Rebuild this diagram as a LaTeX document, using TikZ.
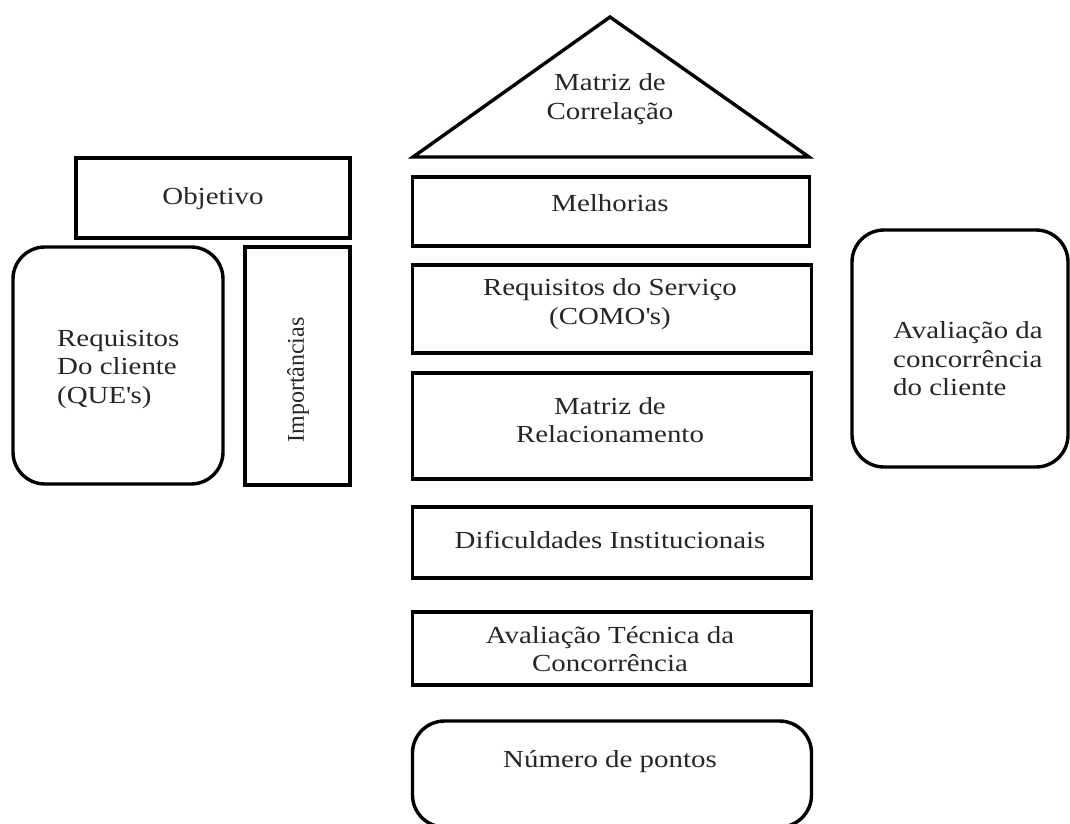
\documentclass[tikz,border=0pt]{standalone}
\usepackage{fontspec}
\setmainfont{Liberation Serif}[FakeStretch=1.18]
\newfontfamily\uprightserif{Liberation Serif}
\begin{document}
\begin{tikzpicture}[x=1pt,y=-1pt,
  box/.style={draw=black, line width=3.4pt, rectangle, inner sep=0pt},
  rbox/.style={box, rounded corners=32pt},
  txt/.style={font=\fontsize{24.5}{28.5}\selectfont, align=center, inner sep=0pt, text=black!85},
  ltxt/.style={txt, align=left, anchor=west}
]
\useasboundingbox[fill=white] (0,0) rectangle (1070,823);

% roof: correlation matrix
\coordinate (apex) at (610,17);
\coordinate (roofL) at (413,157);
\coordinate (roofR) at (809,157);
\draw[line width=3.4pt, line join=miter] (roofL) -- (apex) -- (roofR) -- cycle;
\node[txt] (corr) at (610,99) {Matriz de\\Correlação};

% central column
\node[box, minimum width=397pt, minimum height=69pt] (melh) at (611,211.5) {};
\node[txt] (melhT) at (610,203) {Melhorias};

\node[box, minimum width=399pt, minimum height=88pt] (reqs) at (612,309) {};
\node[txt] (reqsT) at (610,304) {Requisitos do Serviço\\(COMO\textquotesingle s)};

\node[box, minimum width=399pt, minimum height=106pt] (rel) at (612,426) {};
\node[txt] (relT) at (610,420) {Matriz de\\Relacionamento};

\node[box, minimum width=399pt, minimum height=71pt] (dif) at (612,542.5) {};
\node[txt] (difT) at (610,540) {Dificuldades Institucionais};

\node[box, minimum width=399pt, minimum height=73pt] (tec) at (612,648.5) {};
\node[txt] (tecT) at (610,649) {Avaliação Técnica da\\Concorrência};

\node[rbox, minimum width=399pt, minimum height=106pt] (pts) at (612,774) {};
\node[txt] (ptsT) at (610,762) {Número de pontos};

% left side
\node[box, minimum width=274pt, minimum height=80pt] (obj) at (213,198) {};
\node[txt] (objT) at (213,199) {Objetivo};

\node[rbox, minimum width=210pt, minimum height=237pt] (que) at (118,365.5) {};
\node[ltxt] (queT) at (57,369) {Requisitos\\Do cliente\\(QUE\textquotesingle s)};

\node[box, minimum width=105pt, minimum height=238pt] (imp) at (297.5,366) {};
\node[txt, font=\uprightserif\fontsize{24}{28.5}\selectfont, rotate=90] (impT) at (298,380) {Importâncias};

% right side
\node[rbox, minimum width=216pt, minimum height=237pt] (conc) at (960,348.5) {};
\node[ltxt] (concT) at (893,359) {Avaliação da\\concorrência\\do cliente};
\end{tikzpicture}
\end{document}
